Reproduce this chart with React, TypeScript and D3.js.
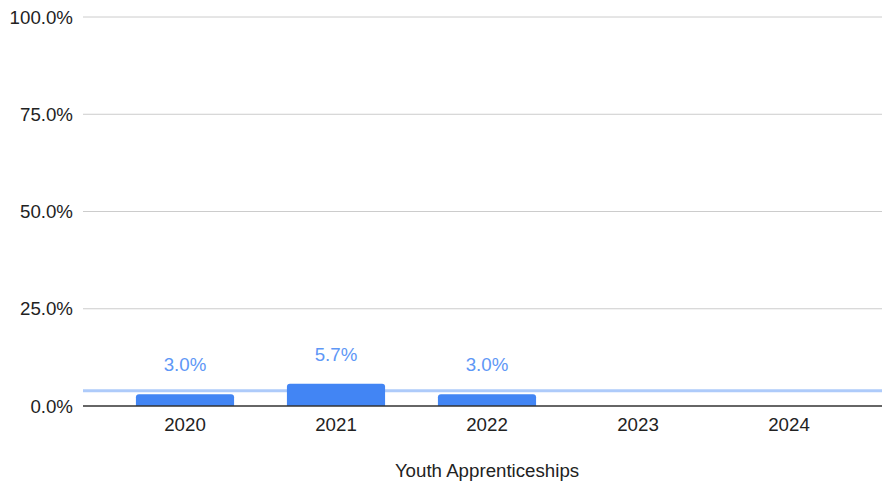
import React from "react";
import * as d3 from "d3";

const categories = ["2020", "2021", "2022", "2023", "2024"];
const values: (number | null)[] = [3.0, 5.7, 3.0, null, null];
const averageValue = 3.9;
const yTicks = [0, 25, 50, 75, 100];
const xAxisTitle = "Youth Apprenticeships";

const W = 882;
const H = 487;
const FONT = "Arial, 'Liberation Sans', sans-serif";
const FS = 18.7;

export default function App() {
  const plotLeft = 83;
  const plotRight = 882;
  const y = d3.scaleLinear().domain([0, 100]).range([406, 17]);
  const x = d3.scaleBand<string>().domain(categories).range([109.5, 864.5]).paddingInner(0.35).paddingOuter(0.175);
  const bw = x.bandwidth();
  const r = 3;

  const barPath = (x0: number, y0: number, w: number, h: number) => {
    const rr = Math.min(r, h, w / 2);
    return `M${x0},${y0 + h}V${y0 + rr}Q${x0},${y0} ${x0 + rr},${y0}H${x0 + w - rr}Q${x0 + w},${y0} ${x0 + w},${y0 + rr}V${y0 + h}Z`;
  };

  return (
    <svg width={W} height={H} style={{ position: "absolute", left: 0, top: 0, background: "#fff" }}>
      {yTicks.map((t) => (
        <g key={t}>
          {t !== 0 && <line x1={plotLeft} x2={plotRight} y1={y(t)} y2={y(t)} stroke="#cccccc" strokeWidth={1} />}
          <text x={73} y={y(t)} dy="0.35em" textAnchor="end" fontFamily={FONT} fontSize={FS} fill="#222">
            {d3.format(".1f")(t) + "%"}
          </text>
        </g>
      ))}
      <line x1={plotLeft} x2={plotRight} y1={y(averageValue)} y2={y(averageValue)} stroke="#aecbfa" strokeWidth={3} />
      {categories.map((c, i) => {
        const v = values[i];
        if (v == null) return null;
        const x0 = x(c)!;
        const yt = y(v);
        return (
          <g key={c}>
            <path d={barPath(x0, yt, bw, y(0) - yt)} fill="#4285f4" />
          </g>
        );
      })}
      {categories.map((c, i) => {
        const v = values[i];
        if (v == null) return null;
        return (
          <text key={c} x={x(c)! + bw / 2} y={y(v) - 23} textAnchor="middle" fontFamily={FONT} fontSize={FS} fill="#5e97f6">
            {d3.format(".1f")(v) + "%"}
          </text>
        );
      })}
      <line x1={plotLeft} x2={plotRight} y1={y(0)} y2={y(0)} stroke="#333" strokeWidth={1.5} />
      {categories.map((c) => (
        <text key={c} x={x(c)! + bw / 2} y={431} textAnchor="middle" fontFamily={FONT} fontSize={FS} fill="#222">
          {c}
        </text>
      ))}
      <text x={487} y={477} textAnchor="middle" fontFamily={FONT} fontSize={FS} fill="#222">
        {xAxisTitle}
      </text>
    </svg>
  );
}
